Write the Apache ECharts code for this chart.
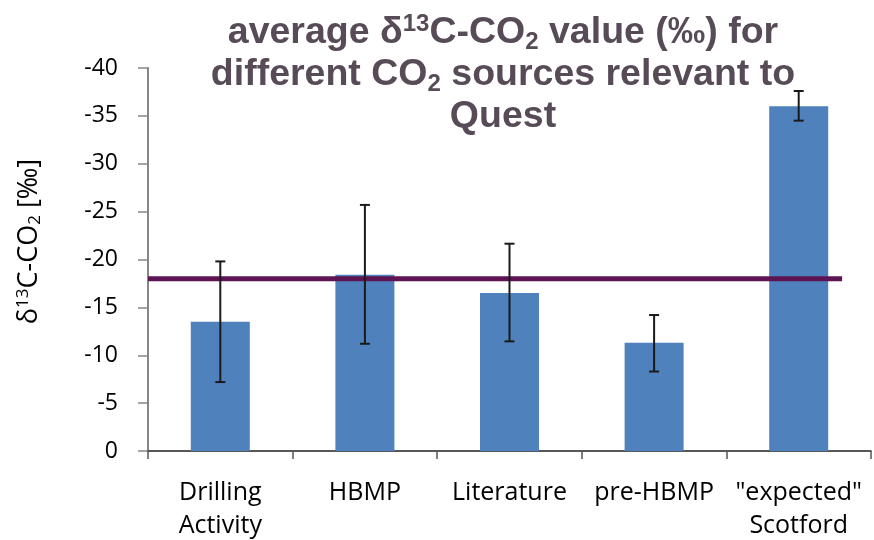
<!DOCTYPE html>
<html><head><meta charset="utf-8">
<script src="https://cdn.jsdelivr.net/npm/echarts@6/dist/echarts.min.js"></script>
<style>html,body{margin:0;padding:0;background:#fff}#c{width:874px;height:540px}</style>
</head><body><div id="c"></div>
<script>
const categories = ['Drilling\nActivity', 'HBMP', 'Literature', 'pre-HBMP', '"expected"\nScotford'];
const meanValues = [-13.5, -18.4, -16.5, -11.3, -36.0];
const errLow = [-7.2, -11.2, -11.45, -8.3, -34.5];
const errHigh = [-19.8, -25.7, -21.65, -14.2, -37.6];
const thresholdValue = -18;
const yTicks = [-40, -35, -30, -25, -20, -15, -10, -5, 0];

const chart = echarts.init(document.getElementById('c'));
const errData = categories.map((c, i) => [i, errLow[i], errHigh[i]]);
const titleColor = '#574B57';
chart.setOption({
  animation: false,
  title: {
    text: 'average δ{sup|13}C-CO{sub|2} value (‰) for\ndifferent CO{sub|2} sources relevant to\nQuest',
    left: 498, top: 7, textAlign: 'center',
    textStyle: {
      fontFamily: 'Liberation Sans', fontWeight: 'bold', fontSize: 37.5, color: titleColor, lineHeight: 42,
      rich: {
        sup: {fontFamily: 'Liberation Sans', fontWeight: 'bold', fontSize: 24, color: titleColor, verticalAlign: 'top', padding: [0,0,12,0], lineHeight: 42},
        sub: {fontFamily: 'Liberation Sans', fontWeight: 'bold', fontSize: 24, color: titleColor, verticalAlign: 'bottom', padding: [14,0,0,0], lineHeight: 42}
      }
    }
  },
  grid: {left: 148, right: 3, top: 68, bottom: 89, containLabel: false, outerBoundsMode: 'none'},
  xAxis: {
    type: 'category', data: categories,
    axisLine: {lineStyle: {color: '#222', width: 1.5}},
    axisTick: {show: true, length: 8, lineStyle: {color: '#555', width: 1.5}},
    axisLabel: {fontFamily: 'Open Sans', fontSize: 25, color: '#000', lineHeight: 33, margin: 25, interval: 0}
  },
  yAxis: {
    type: 'value', min: -40, max: 0, interval: 5, inverse: true,
    name: 'δ{sup|13}C-CO{sub|2} [‰]', nameLocation: 'middle', nameGap: 104, nameRotate: 90,
    nameTextStyle: {fontFamily: 'Open Sans', fontSize: 27, color: '#000', padding: [0, 0, 0, 36],
      rich: {sup: {fontFamily: 'Open Sans', fontSize: 17, color: '#000', verticalAlign: 'top', padding:[0,0,10,0]},
             sub: {fontFamily: 'Open Sans', fontSize: 17, color: '#000', verticalAlign: 'bottom', padding:[12,0,0,0]}}},
    splitLine: {show: false},
    axisLine: {show: true, lineStyle: {color: '#868686', width: 2}},
    axisTick: {show: true, length: 10, lineStyle: {color: '#868686', width: 1.5}},
    axisLabel: {fontFamily: 'Open Sans', fontSize: 23, color: '#000', margin: 30,
      formatter: v => yTicks.includes(v) ? String(v) : ''}
  },
  series: [
    {type: 'bar', data: meanValues, barWidth: 59, itemStyle: {color: '#4F81BD'}, z: 2},
    {type: 'custom', data: errData, z: 5,
      renderItem: (params, api) => {
        const x = api.value(0);
        const lo = api.coord([x, api.value(1)]);
        const hi = api.coord([x, api.value(2)]);
        const w = 5;
        const st = {stroke: '#1a1a1a', lineWidth: 2};
        return {type: 'group', children: [
          {type: 'line', shape: {x1: lo[0], y1: lo[1], x2: hi[0], y2: hi[1]}, style: st},
          {type: 'line', shape: {x1: lo[0]-w, y1: lo[1], x2: lo[0]+w, y2: lo[1]}, style: st},
          {type: 'line', shape: {x1: hi[0]-w, y1: hi[1], x2: hi[0]+w, y2: hi[1]}, style: st}
        ]};
      }},
    {type: 'custom', data: [[categories.length - 1, thresholdValue]], z: 4,
      renderItem: (params, api) => {
        const p = api.coord([api.value(0), api.value(1)]);
        const bw = api.size([1, 0])[0];
        return {type: 'line', shape: {x1: params.coordSys.x, y1: p[1], x2: p[0] + bw * 0.3, y2: p[1]},
          style: {stroke: '#5E1452', lineWidth: 5}};
      }}
  ]
});
</script></body></html>
